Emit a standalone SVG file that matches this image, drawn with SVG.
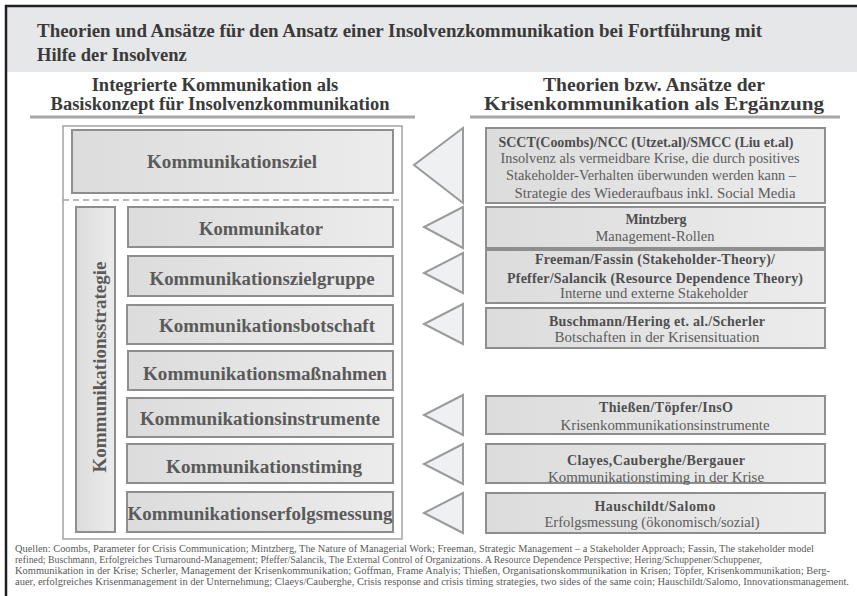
<svg xmlns="http://www.w3.org/2000/svg" width="857" height="596" viewBox="0 0 857 596">
<defs>
<linearGradient id="boxFill" x1="0" y1="0" x2="1" y2="0">
<stop offset="0" stop-color="#dcdcdc"/>
<stop offset="1" stop-color="#ececec"/>
</linearGradient>
<style>
.frame{stroke:#231f20;stroke-width:2.5;fill:none}
.title{font-family:"Liberation Serif",serif;font-weight:bold;font-size:18.5px;fill:#3a3a3a}
.head{font-family:"Liberation Serif",serif;font-weight:bold;font-size:18.5px;fill:#3a3a3a;text-anchor:middle}
.bar{stroke:#a8a8a8;stroke-width:3}
.outer{fill:#fff;stroke:#a3a3a3;stroke-width:1.5}
.box{fill:url(#boxFill);stroke:#8e8e8e;stroke-width:2}
.lbl{font-family:"Liberation Serif",serif;font-weight:bold;font-size:18.5px;fill:#5a5a5a;text-anchor:middle}
.src{font-family:"Liberation Serif",serif;font-weight:bold;font-size:14px;fill:#4f4f4f;text-anchor:middle}
.desc{font-family:"Liberation Serif",serif;font-size:14.5px;fill:#5c5c5c;text-anchor:middle}
.tri{fill:#eef0f2;stroke:#9a9a9a;stroke-width:2}
.dash{stroke:#a3a3a3;stroke-width:1.5;stroke-dasharray:6 4}
.foot{font-family:"Liberation Serif",serif;font-size:10px;fill:#5a5a5a}
</style>
</defs>

<rect x="0" y="0" width="857" height="596" fill="#fff"/>

<!-- header band and frame -->
<rect x="7" y="7" width="850" height="65" fill="#e6e7e8"/>
<line class="frame" x1="5" y1="6" x2="857" y2="6"/>
<line class="frame" x1="6" y1="5" x2="6" y2="596"/>

<g id="title">
<text class="title" x="37" y="37" textLength="725" lengthAdjust="spacingAndGlyphs">Theorien und Ansätze für den Ansatz einer Insolvenzkommunikation bei Fortführung mit</text>
<text class="title" x="37" y="61">Hilfe der Insolvenz</text>
</g>

<g id="head-left">
<text class="head" x="215" y="91">Integrierte Kommunikation als</text>
<text class="head" x="220" y="110">Basiskonzept für Insolvenzkommunikation</text>
<line class="bar" x1="30" y1="117" x2="415" y2="117"/>
</g>

<g id="head-right">
<text class="head" x="654" y="91" textLength="222" lengthAdjust="spacingAndGlyphs">Theorien bzw. Ansätze der</text>
<text class="head" x="654" y="110" textLength="340" lengthAdjust="spacingAndGlyphs">Krisenkommunikation als Ergänzung</text>
<line class="bar" x1="470" y1="117" x2="840" y2="117"/>
</g>

<!-- left column: integrated communication -->
<g id="left-frame">
<rect class="outer" x="63" y="126" width="339" height="413"/>
<line class="dash" x1="63" y1="200" x2="402" y2="200"/>
</g>

<g id="ziel">
<rect class="box" x="72" y="130" width="321" height="63"/>
<text class="lbl" x="232" y="168" textLength="170" lengthAdjust="spacingAndGlyphs">Kommunikationsziel</text>
</g>

<g id="strategie">
<rect class="box" x="76" y="207" width="39" height="325"/>
<text class="lbl" transform="translate(106,367) rotate(-90)" textLength="211" lengthAdjust="spacingAndGlyphs">Kommunikationsstrategie</text>
</g>

<g id="kommunikator">
<rect class="box" x="128" y="207" width="265" height="40"/>
<text class="lbl" x="261" y="235" textLength="124" lengthAdjust="spacingAndGlyphs">Kommunikator</text>
</g>
<g id="zielgruppe">
<rect class="box" x="128" y="256" width="265" height="40"/>
<text class="lbl" x="262" y="285" textLength="225" lengthAdjust="spacingAndGlyphs">Kommunikationszielgruppe</text>
</g>
<g id="botschaft">
<rect class="box" x="127" y="305" width="266" height="39"/>
<text class="lbl" x="267" y="332" textLength="216" lengthAdjust="spacingAndGlyphs">Kommunikationsbotschaft</text>
</g>
<g id="massnahmen">
<rect class="box" x="128" y="351" width="265" height="39"/>
<text class="lbl" x="265" y="380" textLength="244" lengthAdjust="spacingAndGlyphs">Kommunikationsmaßnahmen</text>
</g>
<g id="instrumente">
<rect class="box" x="127" y="398" width="266" height="39"/>
<text class="lbl" x="260" y="425" textLength="240" lengthAdjust="spacingAndGlyphs">Kommunikationsinstrumente</text>
</g>
<g id="timing">
<rect class="box" x="127" y="444" width="266" height="39"/>
<text class="lbl" x="264" y="473" textLength="196" lengthAdjust="spacingAndGlyphs">Kommunikationstiming</text>
</g>
<g id="erfolgsmessung">
<rect class="box" x="127" y="492" width="266" height="40"/>
<text class="lbl" x="260" y="520" textLength="265" lengthAdjust="spacingAndGlyphs">Kommunikationserfolgsmessung</text>
</g>

<!-- connectors: triangles pointing from the crisis theories to the elements -->
<g id="connectors">
<polygon class="tri" points="463,128 463,203 414,165"/>
<polygon class="tri" points="463,207 463,248 424,227"/>
<polygon class="tri" points="463,253 463,293 424,273"/>
<polygon class="tri" points="463,304 463,344 424,324"/>
<polygon class="tri" points="463,395 463,435 424,415"/>
<polygon class="tri" points="463,444 463,484 424,464"/>
<polygon class="tri" points="463,493 463,533 424,513"/>
</g>

<!-- right column: crisis communication theories -->
<g id="scct">
<rect class="box" x="486" y="128" width="339" height="75"/>
<text class="src" x="646" y="147" textLength="295" lengthAdjust="spacing">SCCT(Coombs)/NCC (Utzet.al)/SMCC (Liu et.al)</text>
<text class="desc" x="650" y="163" textLength="299" lengthAdjust="spacingAndGlyphs">Insolvenz als vermeidbare Krise, die durch positives</text>
<text class="desc" x="651" y="180" textLength="290" lengthAdjust="spacingAndGlyphs">Stakeholder-Verhalten überwunden werden kann –</text>
<text class="desc" x="655" y="198" textLength="281" lengthAdjust="spacingAndGlyphs">Strategie des Wiederaufbaus inkl. Social Media</text>
</g>
<g id="mintzberg">
<rect class="box" x="486" y="207" width="339" height="41"/>
<text class="src" x="656" y="224" textLength="61" lengthAdjust="spacing">Mintzberg</text>
<text class="desc" x="655" y="241" textLength="119" lengthAdjust="spacingAndGlyphs">Management-Rollen</text>
</g>
<g id="freeman">
<rect class="box" x="486" y="250" width="339" height="53"/>
<text class="src" x="655" y="264" textLength="240" lengthAdjust="spacing">Freeman/Fassin (Stakeholder-Theory)/</text>
<text class="src" x="655" y="283" textLength="296" lengthAdjust="spacing">Pfeffer/Salancik (Resource Dependence Theory)</text>
<text class="desc" x="654" y="298" textLength="188" lengthAdjust="spacingAndGlyphs">Interne und externe Stakeholder</text>
</g>
<g id="buschmann">
<rect class="box" x="486" y="308" width="339" height="40"/>
<text class="src" x="657" y="326" textLength="216" lengthAdjust="spacing">Buschmann/Hering et. al./Scherler</text>
<text class="desc" x="657" y="342" textLength="205" lengthAdjust="spacingAndGlyphs">Botschaften in der Krisensituation</text>
</g>
<g id="thiessen">
<rect class="box" x="486" y="396" width="339" height="38"/>
<text class="src" x="666" y="412" textLength="134" lengthAdjust="spacing">Thießen/Töpfer/InsO</text>
<text class="desc" x="665" y="430" textLength="209" lengthAdjust="spacingAndGlyphs">Krisenkommunikationsinstrumente</text>
</g>
<g id="clayes">
<rect class="box" x="486" y="444" width="339" height="39"/>
<text class="src" x="656" y="465" textLength="178" lengthAdjust="spacing">Clayes,Cauberghe/Bergauer</text>
<text class="desc" x="656" y="482" textLength="216" lengthAdjust="spacingAndGlyphs">Kommunikationstiming in der Krise</text>
</g>
<g id="hauschildt">
<rect class="box" x="486" y="493" width="339" height="40"/>
<text class="src" x="655" y="511" textLength="121" lengthAdjust="spacing">Hauschildt/Salomo</text>
<text class="desc" x="652" y="527" textLength="215" lengthAdjust="spacingAndGlyphs">Erfolgsmessung (ökonomisch/sozial)</text>
</g>

<g id="sources">
<text class="foot" x="15" y="552" textLength="799" lengthAdjust="spacingAndGlyphs">Quellen: Coombs, Parameter for Crisis Communication; Mintzberg, The Nature of Managerial Work; Freeman, Strategic Management – a Stakeholder Approach; Fassin, The stakeholder model</text>
<text class="foot" x="15" y="563" textLength="747" lengthAdjust="spacingAndGlyphs">refined; Buschmann, Erfolgreiches Turnaround-Management; Pfeffer/Salancik, The External Control of Organizations. A Resource Dependence Perspective; Hering/Schuppener/Schuppener,</text>
<text class="foot" x="15" y="574" textLength="815" lengthAdjust="spacingAndGlyphs">Kommunikation in der Krise; Scherler, Management der Krisenkommunikation; Goffman, Frame Analyis; Thießen, Organisationskommunikation in Krisen; Töpfer, Krisenkommunikation; Berg-</text>
<text class="foot" x="15" y="585" textLength="834" lengthAdjust="spacingAndGlyphs">auer, erfolgreiches Krisenmanagement in der Unternehmung; Claeys/Cauberghe, Crisis response and crisis timing strategies, two sides of the same coin; Hauschildt/Salomo, Innovationsmanagement.</text>
</g>
</svg>
